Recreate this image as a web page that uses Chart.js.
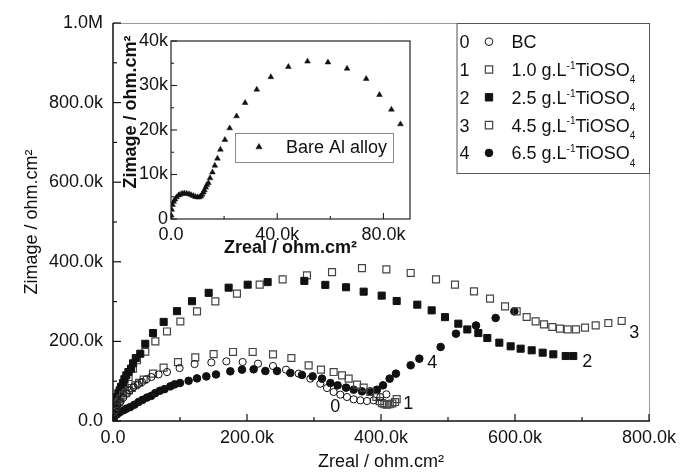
<!DOCTYPE html>
<html><head><meta charset="utf-8">
<script src="https://cdn.jsdelivr.net/npm/chart.js@4/dist/chart.umd.min.js"></script>
<style>
html,body{margin:0;padding:0;background:#fff;}
#wrap{position:relative;width:688px;height:474px;overflow:hidden;background:#fff;}
#mainBox{position:absolute;left:0;top:0;width:688px;height:474px;}
#insetBox{position:absolute;left:100px;top:20px;width:330px;height:240px;}
</style></head><body>
<div id="wrap">
  <div id="mainBox"><canvas id="main" width="688" height="474"></canvas></div>
  <div id="insetBox"><canvas id="inset" width="330" height="240"></canvas></div>
</div>
<script>
// ---------- DATA (kOhm.cm2) ----------
const seriesNumbers = ['0','1','2','3','4'];
const seriesLabels = ['BC','1.0 g.L⁻¹TiOSO₄','2.5 g.L⁻¹TiOSO₄','4.5 g.L⁻¹TiOSO₄','6.5 g.L⁻¹TiOSO₄'];

const bcX = [0.5,1.5,3.4,6,10.9,15,20.9,25,30.7,37,43.3,50,57.2,68,80.6,99.4,121.8,146.8,169.2,193.5,216.4,238.8,258.2,277.1,294.5,309.4,319.4,329.3,339.3,349.2,359.2,369.1,379.1,389,399,408];
const bcY = [8,18,31,40,47.7,58,68.8,77,85.4,92,98,105,110.5,117,123,133,143,147,149.9,148.2,144,138.2,129,119,106.4,93.8,82.9,72.9,66.2,60.3,54.4,51.9,50.2,51.9,60.3,67];

const c10X = [0.5,1.5,3.5,6,8.4,11,14.9,19,23.3,28,33.3,39,45.7,59.7,75.5,97,122.8,150.2,179.1,208.5,238.8,266.2,292,310.4,329.3,341.8,351.7,364.2,374.1,384,393,398,401.5,405,409,413,417,421,423.4];
const c10Y = [10,22,35,42,47.7,56,64.6,71,77,83,89.7,96,104,119,134,148,160,168,173.4,173.4,167.5,158.3,139.9,129,123,114.7,106.4,91.3,83.8,72.9,60.3,50,45,42,41,42,44,47.7,55];

const c25X = [0.5,1,2,4,6,8,9.9,12,14.9,17,19.9,23,26.9,30,34,40.7,48.2,59.7,75.6,95.5,117.9,142.8,172.6,201,230.8,285.6,316.9,347.8,374.1,401,423.4,454.2,475.6,495.5,515.4,528.8,545.3,558.7,576.6,593.5,608.4,624.9,641.3,657.2,675.6,687];
const c25Y = [10,20,44,52,60,70,77,86,95.5,105,114.8,123,131.6,145,158,169,194,221,249,276,301,322,335,342.5,349,352,342,336,325,315,301.5,292.3,278,261,244.5,230,221,208.5,196.8,187.6,181.7,177.6,171.7,167.5,163.3,163.3];

const c45X = [0.5,1.5,3,4.9,8.4,13.4,16.9,23.3,29.8,35.8,48.2,63.2,80.6,100.5,125.4,152.7,185,218.9,253.2,289.5,326.9,371.6,408,444.3,482.1,510.4,538.8,562.7,585.1,602.5,617.4,630.8,643.3,655.7,667.1,678.6,691,704.5,720.4,739.3,759.2];
const c45Y = [8,20,32,43.6,60,77,94,110.5,131.6,152.5,174,200,225,250,275.5,300.7,320,342.5,356,366,374,384,381,371.9,356,342.5,325.8,307.4,288,275.5,261.3,250.4,242.9,236.2,232,230.3,230.3,234.5,240.4,246.2,251.3];

const c65X = [0.3,1,3,6,10,15.8,20,25.8,32,38.2,44,50.7,57,63,70,77,85.6,92,100,112.9,125.4,139.3,153.7,175.1,192.5,209.9,227.4,244.8,264.7,282.1,298,311.9,324.4,335.3,347.8,359.2,371.6,384,394,403,412.9,422.3,444.3,457.2,489,511.9,541.8,571.1,599];
const c65Y = [3,8.5,13,17,22,27,31,35,41,47.7,53,58.8,63,70,76,80,87,92,95.5,101,107,112,117,124.8,129,129.8,125.6,125.6,120.6,115.6,112.2,106.4,95.5,89.6,83.8,78.7,74.5,74.5,78.7,89.6,106.4,119,140,156.6,186,219.4,240,258.8,275.5];

// curve number annotations (data units)
const curveLabelX = [331.8, 440.7, 707.9, 778, 476.6];
const curveLabelY = [35, 43.7, 148, 221, 145];

// inset: bare Al alloy
const insetLabel = 'Bare Al alloy';
const alX = [0,0.1,0.25,0.6,1,1.5,2.1,2.8,3.4,4.2,5,5.9,6.8,7.6,8.4,9.2,10,10.6,11.2,11.7,12.2,12.6,13.1,13.5,14.1,14.7,15.6,16.5,17.5,18.6,20.3,22.1,24.7,27.9,32.3,37.6,44.2,51.4,59.1,66.3,73.5,78.5,83,86.4];
const alY = [0,0.8,2.1,3.2,3.9,4.4,4.9,5.3,5.5,5.7,5.75,5.7,5.6,5.4,5.2,5.0,4.9,4.9,5.1,5.5,6.0,6.5,7.1,7.7,8.1,9.2,10.5,12.0,13.6,15.6,17.8,20.4,23.1,26.1,29.1,31.9,34.2,35.4,35.2,33.8,31.5,27.9,24.6,21.3];

// ---------- STYLE ----------
const FONT = '"Liberation Sans", Arial, Helvetica, sans-serif';
const INK = '#111';
Chart.defaults.font.family = FONT;
Chart.defaults.font.size = 18;
Chart.defaults.color = INK;

const styles = [
  {shape:'circle', fill:'rgba(0,0,0,0)', stroke:'#111', r:3.6, bw:1},
  {shape:'rect',   fill:'rgba(0,0,0,0)', stroke:'#444', r:4.9, bw:1.2},
  {shape:'rect',   fill:'#111',          stroke:'#111', r:5.0, bw:1},
  {shape:'rect',   fill:'rgba(0,0,0,0)', stroke:'#444', r:4.9, bw:1.2},
  {shape:'circle', fill:'#111',          stroke:'#111', r:3.8, bw:1}
];
const seriesX = [bcX, c10X, c25X, c45X, c65X];
const seriesY = [bcY, c10Y, c25Y, c45Y, c65Y];

function pts(xs, ys){ return xs.map((x,i)=>({x:x, y:ys[i]})); }

function fmtMain(v){
  if (Math.abs(v) < 1e-9) return '0.0';
  if (v >= 1000) return (v/1000).toFixed(1)+'M';
  return v.toFixed(1)+'k';
}

function drawMarker(ctx, st, x, y, r){
  ctx.save();
  ctx.lineWidth = st.bw; ctx.strokeStyle = st.stroke; ctx.fillStyle = st.fill;
  ctx.beginPath();
  if (st.shape === 'circle') ctx.arc(x, y, r, 0, Math.PI*2);
  else if (st.shape === 'rect') { const s = r*Math.SQRT1_2; ctx.rect(x-s, y-s, 2*s, 2*s); }
  else if (st.shape === 'triangle') {
    ctx.moveTo(x, y - r);
    ctx.lineTo(x + r*0.866, y + r*0.5);
    ctx.lineTo(x - r*0.866, y + r*0.5);
    ctx.closePath();
  }
  ctx.fill(); ctx.stroke();
  ctx.restore();
}

function drawRich(ctx, text, x, yBase, size){
  const supMap = {'⁻':'-','¹':'1','²':'2'}, subMap = {'₄':'4'};
  const segs = [];
  for (const ch of text){
    let t = 'n', c = ch;
    if (supMap[ch] !== undefined){ t='sup'; c=supMap[ch]; }
    else if (subMap[ch] !== undefined){ t='sub'; c=subMap[ch]; }
    if (segs.length && segs[segs.length-1].t === t) segs[segs.length-1].s += c;
    else segs.push({t:t, s:c});
  }
  let cx = x;
  ctx.textAlign = 'left'; ctx.textBaseline = 'alphabetic';
  for (const sg of segs){
    if (sg.t === 'n'){
      ctx.font = size + 'px ' + FONT;
      ctx.fillText(sg.s, cx, yBase);
    } else {
      const fs = Math.round(size*0.58);
      ctx.font = fs + 'px ' + FONT;
      ctx.fillText(sg.s, cx, yBase + (sg.t === 'sup' ? -size*0.4 : size*0.4));
    }
    cx += ctx.measureText(sg.s).width;
  }
}

// ---------- MAIN CHART ----------
const mainDecor = {
  id: 'mainDecor',
  afterDraw(chart){
    const {ctx, chartArea: ca, scales} = chart;
    const xs = scales.x, ys = scales.y;
    ctx.save();
    ctx.strokeStyle = '#9a9a9a'; ctx.lineWidth = 1;
    ctx.beginPath();
    ctx.moveTo(ca.left, ca.top + 0.5); ctx.lineTo(ca.right + 0.5, ca.top + 0.5); ctx.lineTo(ca.right + 0.5, ca.bottom);
    ctx.stroke();
    ctx.strokeStyle = INK; ctx.lineWidth = 1.5;
    ctx.beginPath();
    ctx.moveTo(ca.left, ca.top); ctx.lineTo(ca.left, ca.bottom); ctx.lineTo(ca.right + 1, ca.bottom);
    ctx.stroke();
    ctx.lineWidth = 1.2;
    ys.ticks.forEach(t => {
      const p = ys.getPixelForValue(t.value);
      const len = (Math.round(t.value) % 200 === 0) ? 8 : 4;
      ctx.beginPath(); ctx.moveTo(ca.left, p); ctx.lineTo(ca.left + len, p); ctx.stroke();
    });
    xs.ticks.forEach(t => {
      const p = xs.getPixelForValue(t.value);
      const len = (Math.round(t.value) % 200 === 0) ? 7 : 4;
      ctx.beginPath(); ctx.moveTo(p, ca.bottom); ctx.lineTo(p, ca.bottom - len); ctx.stroke();
    });
    ctx.fillStyle = INK; ctx.font = '18px ' + FONT;
    ctx.textAlign = 'center'; ctx.textBaseline = 'middle';
    seriesNumbers.forEach((n, i) => {
      ctx.fillText(n, xs.getPixelForValue(curveLabelX[i]), ys.getPixelForValue(curveLabelY[i]));
    });
    const bw = 192.5, bh = 150;
    const bx = ca.right - bw, by = ca.top;
    ctx.fillStyle = '#fff';
    ctx.fillRect(bx, by, bw, bh);
    ctx.strokeStyle = '#555'; ctx.lineWidth = 1;
    ctx.strokeRect(bx + 0.5, by + 0.5, bw, bh);
    seriesLabels.forEach((lab, i) => {
      const cy = by + 18.7 + i*27.8;
      ctx.fillStyle = INK;
      ctx.font = '18px ' + FONT; ctx.textAlign = 'left'; ctx.textBaseline = 'alphabetic';
      ctx.fillText(seriesNumbers[i], bx + 3, cy + 6.5);
      const st = styles[i];
      drawMarker(ctx, st, bx + 32.5, cy, st.shape === 'rect' ? 5.2 : 3.8);
      ctx.fillStyle = INK;
      drawRich(ctx, lab, bx + 55, cy + 6.5, 18);
    });
    ctx.restore();
  }
};

new Chart(document.getElementById('main'), {
  type: 'scatter',
  data: {
    datasets: seriesLabels.map((lab, i) => ({
      label: lab,
      data: pts(seriesX[i], seriesY[i]),
      pointStyle: styles[i].shape,
      pointRadius: styles[i].r,
      pointHoverRadius: styles[i].r,
      pointBackgroundColor: styles[i].fill,
      pointBorderColor: styles[i].stroke,
      pointBorderWidth: styles[i].bw,
      showLine: false
    }))
  },
  options: {
    responsive: false,
    animation: false,
    devicePixelRatio: 1,
    events: [],
    layout: { padding: { top: 23, right: 39, left: 0, bottom: 0 } },
    plugins: { legend: { display: false }, tooltip: { enabled: false } },
    scales: {
      x: {
        type: 'linear', min: 0, max: 800,
        grid: { display: false, drawTicks: false },
        border: { display: false },
        ticks: { stepSize: 100, autoSkip: false, maxRotation: 0, padding: 6, color: INK,
          font: { size: 18 },
          callback: v => (Math.round(v) % 200 === 0 ? fmtMain(v) : '') },
        title: { display: true, text: 'Zreal / ohm.cm²', color: INK, font: { size: 18 }, padding: { top: 0, bottom: 1 } },
        afterFit: s => { s.height = 53; }
      },
      y: {
        type: 'linear', min: 0, max: 1000,
        grid: { display: false, drawTicks: false },
        border: { display: false },
        ticks: { stepSize: 100, autoSkip: false, padding: 10, color: INK,
          font: { size: 18 },
          callback: v => (Math.round(v) % 200 === 0 ? fmtMain(v) : '') },
        title: { display: true, text: 'Zimage / ohm.cm²', color: INK, font: { size: 18 }, padding: { top: 21, bottom: 0 } },
        afterFit: s => { s.width = 113; }
      }
    }
  },
  plugins: [mainDecor]
});

// ---------- INSET CHART ----------
const insetStyle = {shape:'triangle', fill:'#111', stroke:'#111', r:3.3, bw:0.5};
const insetDecor = {
  id: 'insetDecor',
  afterDraw(chart){
    const {ctx, chartArea: ca, scales} = chart;
    const xs = scales.x, ys = scales.y;
    ctx.save();
    ctx.strokeStyle = '#222'; ctx.lineWidth = 1.2;
    ctx.strokeRect(ca.left, ca.top, ca.right - ca.left, ca.bottom - ca.top);
    ctx.lineWidth = 1.1;
    ys.ticks.forEach(t => {
      const p = ys.getPixelForValue(t.value);
      const len = (Math.round(t.value) % 10 === 0) ? 6 : 3;
      ctx.beginPath(); ctx.moveTo(ca.left, p); ctx.lineTo(ca.left + len, p); ctx.stroke();
    });
    xs.ticks.forEach(t => {
      const p = xs.getPixelForValue(t.value);
      const len = (Math.round(t.value) % 40 === 0) ? 6 : 3;
      ctx.beginPath(); ctx.moveTo(p, ca.bottom); ctx.lineTo(p, ca.bottom - len); ctx.stroke();
    });
    ctx.fillStyle = INK;
    ctx.translate(ca.left - 40, ca.top + 71);
    ctx.rotate(-Math.PI/2);
    ctx.font = 'bold 18px ' + FONT;
    ctx.textAlign = 'center'; ctx.textBaseline = 'middle';
    ctx.fillText('Zimage / ohm.cm²', 0, 0);
    ctx.setTransform(1,0,0,1,0,0);
    const lx = ca.left + 64, ly = ca.top + 92, lw = 158, lh = 29;
    ctx.strokeStyle = '#8a8a8a'; ctx.lineWidth = 1;
    ctx.strokeRect(lx + 0.5, ly + 0.5, lw, lh);
    drawMarker(ctx, insetStyle, lx + 24, ly + 14, 3.6);
    ctx.fillStyle = INK; ctx.font = '18px ' + FONT;
    ctx.textAlign = 'left'; ctx.textBaseline = 'middle';
    ctx.fillText(insetLabel, lx + 51, ly + 15);
    ctx.restore();
  }
};

new Chart(document.getElementById('inset'), {
  type: 'scatter',
  data: {
    datasets: [{
      label: insetLabel,
      data: pts(alX, alY),
      pointStyle: 'triangle',
      pointRadius: insetStyle.r,
      pointHoverRadius: insetStyle.r,
      pointBackgroundColor: insetStyle.fill,
      pointBorderColor: insetStyle.stroke,
      pointBorderWidth: insetStyle.bw,
      showLine: false
    }]
  },
  options: {
    responsive: false,
    animation: false,
    devicePixelRatio: 1,
    events: [],
    layout: { padding: { top: 21, right: 20, left: 0, bottom: 0 } },
    plugins: { legend: { display: false }, tooltip: { enabled: false } },
    scales: {
      x: {
        type: 'linear', min: 0, max: 90,
        grid: { display: false, drawTicks: false },
        border: { display: false },
        ticks: { stepSize: 20, includeBounds: false, autoSkip: false, maxRotation: 0, padding: 5, color: INK,
          font: { size: 18 },
          callback: v => (Math.round(v) % 40 === 0 ? (v === 0 ? '0.0' : v.toFixed(1) + 'k') : '') },
        title: { display: true, text: 'Zreal / ohm.cm²', color: INK, font: { size: 18, weight: 'bold' }, padding: { top: 0, bottom: 1 } },
        afterFit: s => { s.height = 41; }
      },
      y: {
        type: 'linear', min: 0, max: 40,
        grid: { display: false, drawTicks: false },
        border: { display: false },
        ticks: { stepSize: 5, autoSkip: false, padding: 3, color: INK,
          font: { size: 18 },
          callback: v => (Math.round(v) % 10 === 0 ? (v === 0 ? '0' : v + 'k') : '') },
        afterFit: s => { s.width = 71; }
      }
    }
  },
  plugins: [insetDecor]
});
</script>
</body></html>
